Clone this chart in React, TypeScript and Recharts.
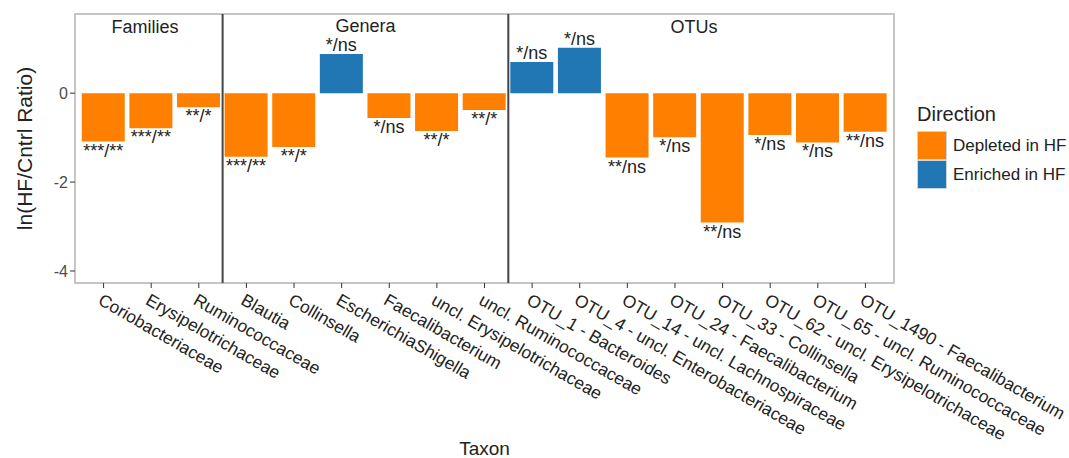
import React from "react";
import {
  BarChart,
  Bar,
  Cell,
  XAxis,
  YAxis,
  LabelList,
  ReferenceLine,
  ReferenceArea,
  ReferenceDot,
} from "recharts";

const taxa = [
  "Coriobacteriaceae",
  "Erysipelotrichaceae",
  "Ruminococcaceae",
  "Blautia",
  "Collinsella",
  "EscherichiaShigella",
  "Faecalibacterium",
  "uncl. Erysipelotrichaceae",
  "uncl. Ruminococcaceae",
  "OTU_1 - Bacteroides",
  "OTU_4 - uncl. Enterobacteriaceae",
  "OTU_14 - uncl. Lachnospiraceae",
  "OTU_24 - Faecalibacterium",
  "OTU_33 - Collinsella",
  "OTU_62 - uncl. Erysipelotrichaceae",
  "OTU_65 - uncl. Ruminococcaceae",
  "OTU_1490 - Faecalibacterium",
];

const ratios = [
  -1.09, -0.79, -0.32, -1.43, -1.21, 0.88, -0.56, -0.85, -0.38, 0.7, 1.02,
  -1.45, -0.99, -2.91, -0.94, -1.11, -0.87,
];

const sigLabels = [
  "***/**", "***/**", "**/*", "***/**", "**/*", "*/ns", "*/ns", "**/*", "**/*",
  "*/ns", "*/ns", "**/ns", "*/ns", "**/ns", "*/ns", "*/ns", "**/ns",
];

const directions = [
  "Depleted in HF", "Depleted in HF", "Depleted in HF", "Depleted in HF",
  "Depleted in HF", "Enriched in HF", "Depleted in HF", "Depleted in HF",
  "Depleted in HF", "Enriched in HF", "Enriched in HF", "Depleted in HF",
  "Depleted in HF", "Depleted in HF", "Depleted in HF", "Depleted in HF",
  "Depleted in HF",
];

const groups = [
  { name: "Families", x: 1.87, y: 1.5 },
  { name: "Genera", x: 6.5, y: 1.52 },
  { name: "OTUs", x: 13.4, y: 1.5 },
];
const dividers = [3.5, 9.5];
const yTicks = [-4, -2, 0];

const colors: Record<string, string> = {
  "Depleted in HF": "#ff8000",
  "Enriched in HF": "#2077b4",
};

const data = taxa.map((t, i) => ({
  pos: i + 1,
  taxon: t,
  ratio: ratios[i],
  sig: sigLabels[i],
  direction: directions[i],
}));

const font = "'Liberation Sans', Arial, sans-serif";

function TaxonTick(props: any) {
  const { x, y, payload } = props;
  return (
    <g transform={`translate(${x},${y})`}>
      <text
        x={1}
        y={2}
        dy="0.75em"
        transform="rotate(30)"
        textAnchor="start"
        fontSize={17.4}
        fontFamily={font}
        fill="#222"
      >
        {taxa[payload.value - 1]}
      </text>
    </g>
  );
}

function SigTag(props: any) {
  const { x, y, width, height, index, value } = props;
  const top = Math.min(y, y + height);
  const bottom = Math.max(y, y + height);
  const neg = ratios[index] < 0;
  return (
    <text
      x={x + width / 2}
      y={neg ? bottom + 15 : top - 3}
      textAnchor="middle"
      fontSize={18}
      fontFamily={font}
      fill="#222"
    >
      {value}
    </text>
  );
}

export default function App() {
  return (
    <div style={{ position: "absolute", left: 0, top: 0, width: 1069, height: 458, fontFamily: font }}>
      <BarChart
        width={1069}
        height={458}
        data={data}
        margin={{ top: 14, right: 175, bottom: 3, left: 10 }}
      >
        <XAxis
          type="number"
          dataKey="pos"
          domain={[0.4, 17.6]}
          ticks={data.map((d) => d.pos)}
          interval={0}
          height={172}
          axisLine={false}
          tickLine={{ stroke: "#333" }}
          tickSize={5}
          tick={<TaxonTick />}
          label={{
            value: "Taxon",
            position: "insideBottom",
            offset: 0,
            fontSize: 19,
            fill: "#222",
          }}
        />
        <YAxis
          type="number"
          domain={[-4.27, 1.78]}
          ticks={yTicks}
          width={65}
          axisLine={false}
          tickLine={{ stroke: "#333" }}
          tickSize={5}
          tick={{ fontSize: 16, fill: "#4d4d4d", fontFamily: font }}
          label={{
            value: "ln(HF/Cntrl Ratio)",
            angle: -90,
            position: "insideLeft",
            offset: 15,
            fontSize: 21,
            fill: "#222",
            style: { textAnchor: "middle" },
          }}
        />
        <ReferenceArea
          x1={0.4}
          x2={17.6}
          y1={-4.27}
          y2={1.78}
          fill="none"
          stroke="#b3b3b3"
          strokeWidth={1.5}
        />
        {dividers.map((d) => (
          <ReferenceLine key={d} x={d} stroke="#444" strokeWidth={2} />
        ))}
        {groups.map((g) => (
          <ReferenceDot
            key={g.name}
            x={g.x}
            y={g.y}
            r={0}
            fill="none"
            stroke="none"
            label={{ value: g.name, position: "center", fontSize: 18, fill: "#222" }}
          />
        ))}
        <Bar dataKey="ratio" barSize={43} isAnimationActive={false}>
          {data.map((d) => (
            <Cell key={d.taxon} fill={colors[d.direction]} />
          ))}
          <LabelList dataKey="sig" content={<SigTag />} />
        </Bar>
      </BarChart>
      <div style={{ position: "absolute", left: 917, top: 103 }}>
        <div style={{ fontSize: 20, color: "#222", marginBottom: 5 }}>Direction</div>
        {Object.keys(colors).map((k) => (
          <div key={k} style={{ display: "flex", alignItems: "center", height: 29 }}>
            <div
              style={{
                width: 28,
                height: 27,
                background: colors[k],
                border: "1px solid #c8d4e0",
                marginRight: 6,
              }}
            />
            <span style={{ fontSize: 17, color: "#222" }}>{k}</span>
          </div>
        ))}
      </div>
    </div>
  );
}
